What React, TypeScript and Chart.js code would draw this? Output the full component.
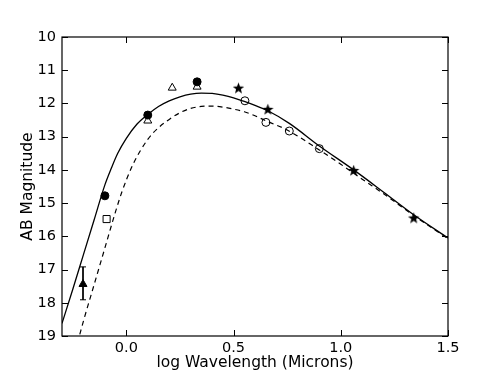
import React, { useEffect, useRef } from 'react';
import { Chart, registerables } from 'chart.js';

Chart.register(...registerables);

// Axis ticks
const xTicks = [0.0, 0.5, 1.0, 1.5];
const yTicks = [10, 11, 12, 13, 14, 15, 16, 17, 18, 19];

// Model curves
const solidX = [-0.3, -0.25, -0.2, -0.15, -0.1, -0.07, -0.04, 0.0, 0.05, 0.1, 0.15, 0.2, 0.25, 0.3, 0.35, 0.4, 0.45, 0.5, 0.55, 0.6, 0.66, 0.76, 0.9, 1.06, 1.2, 1.34, 1.5];
const solidY = [18.62, 17.6, 16.55, 15.5, 14.45, 13.95, 13.5, 13.05, 12.62, 12.33, 12.09, 11.92, 11.8, 11.72, 11.69, 11.7, 11.75, 11.83, 11.94, 12.06, 12.22, 12.6, 13.28, 14.0, 14.67, 15.35, 16.05];

const dashedX = [-0.217, -0.2, -0.15, -0.1, -0.05, -0.02, 0.03, 0.1, 0.15, 0.2, 0.25, 0.3, 0.35, 0.4, 0.45, 0.5, 0.55, 0.6, 0.65, 0.75, 0.9, 1.0, 1.1, 1.2, 1.34, 1.5];
const dashedY = [18.95, 18.55, 17.45, 16.35, 15.25, 14.65, 13.85, 13.08, 12.73, 12.48, 12.28, 12.15, 12.09, 12.08, 12.11, 12.17, 12.25, 12.37, 12.52, 12.8, 13.4, 13.83, 14.28, 14.72, 15.37, 16.07];

// Observations
const filledCircleX = [-0.1, 0.1, 0.33];
const filledCircleY = [14.78, 12.35, 11.35];

const openTriangleX = [0.1, 0.214, 0.33];
const openTriangleY = [12.52, 11.53, 11.5];

const starX = [0.523, 0.66, 1.06, 1.34];
const starY = [11.54, 12.18, 14.02, 15.45];

const openCircleX = [0.553, 0.651, 0.76, 0.9];
const openCircleY = [11.92, 12.57, 12.83, 13.36];

const openSquareX = [-0.092];
const openSquareY = [15.48];

const filledTriangleX = [-0.202];
const filledTriangleY = [17.44];
const errLow = [16.92];
const errHigh = [17.91];

const pts = (xs: number[], ys: number[]) => xs.map((x, i) => ({ x, y: ys[i] }));

function makeStar(): HTMLCanvasElement {
  const c = document.createElement('canvas');
  c.width = 13;
  c.height = 13;
  const g = c.getContext('2d')!;
  const cx = 6.5, cy = 6.8, R = 6, r = 2.5;
  g.beginPath();
  for (let i = 0; i < 10; i++) {
    const rad = i % 2 === 0 ? R : r;
    const a = -Math.PI / 2 + (i * Math.PI) / 5;
    const px = cx + rad * Math.cos(a);
    const py = cy + rad * Math.sin(a);
    if (i === 0) g.moveTo(px, py);
    else g.lineTo(px, py);
  }
  g.closePath();
  g.fillStyle = '#000';
  g.fill();
  return c;
}

const FONT = "'DejaVu Sans', sans-serif";

const framePlugin = {
  id: 'frameTicks',
  afterDraw(chart: any) {
    const { ctx, chartArea } = chart;
    const { left, right, top, bottom } = chartArea;
    const x = chart.scales.x;
    const y = chart.scales.y;
    ctx.save();
    ctx.strokeStyle = '#000';
    ctx.lineWidth = 1.2;
    ctx.strokeRect(left, top, right - left, bottom - top);
    ctx.lineWidth = 1;
    const L = 6;
    ctx.beginPath();
    xTicks.forEach((v) => {
      const p = Math.round(x.getPixelForValue(v)) + 0.5;
      ctx.moveTo(p, bottom);
      ctx.lineTo(p, bottom - L);
      ctx.moveTo(p, top);
      ctx.lineTo(p, top + L);
    });
    yTicks.forEach((v) => {
      const p = Math.round(y.getPixelForValue(v)) + 0.5;
      ctx.moveTo(left, p);
      ctx.lineTo(left + L, p);
      ctx.moveTo(right, p);
      ctx.lineTo(right - L, p);
    });
    ctx.stroke();
    ctx.restore();
  },
};

export default function App() {
  const ref = useRef<HTMLCanvasElement>(null);
  useEffect(() => {
    document.body.style.margin = '0';
    const star = makeStar();
    const errData: { x: number; y: number }[] = [];
    filledTriangleX.forEach((x, i) => {
      errData.push({ x, y: errLow[i] });
      errData.push({ x, y: errHigh[i] });
    });
    const chart = new Chart(ref.current!, {
      type: 'scatter',
      data: {
        datasets: [
          {
            label: 'filled circles',
            data: pts(filledCircleX, filledCircleY),
            pointStyle: 'circle',
            pointRadius: 4,
            backgroundColor: '#000',
            borderColor: '#000',
            borderWidth: 1,
          },
          {
            label: 'filled triangle',
            data: pts(filledTriangleX, filledTriangleY),
            pointStyle: 'triangle',
            pointRadius: 4.6,
            backgroundColor: '#000',
            borderColor: '#000',
            borderWidth: 1,
          },
          {
            label: 'error',
            data: errData,
            showLine: true,
            pointStyle: 'line',
            pointRadius: 3,
            borderColor: '#000',
            backgroundColor: '#000',
            borderWidth: 1,
          },
          {
            label: 'stars',
            data: pts(starX, starY),
            pointStyle: star as any,
            pointRadius: 6,
          },
          {
            label: 'open circles',
            data: pts(openCircleX, openCircleY),
            pointStyle: 'circle',
            pointRadius: 4,
            backgroundColor: 'rgba(0,0,0,0)',
            borderColor: '#000',
            borderWidth: 1,
          },
          {
            label: 'open square',
            data: pts(openSquareX, openSquareY),
            pointStyle: 'rect',
            pointRadius: 5,
            backgroundColor: '#fff',
            borderColor: '#000',
            borderWidth: 1,
          },
          {
            label: 'open triangles',
            data: pts(openTriangleX, openTriangleY),
            pointStyle: 'triangle',
            pointRadius: 4.6,
            backgroundColor: 'rgba(255,255,255,1)',
            borderColor: '#000',
            borderWidth: 1,
          },
          {
            label: 'model solid',
            data: pts(solidX, solidY),
            showLine: true,
            pointRadius: 0,
            borderColor: '#000',
            borderWidth: 1.3,
            cubicInterpolationMode: 'monotone',
          },
          {
            label: 'model dashed',
            data: pts(dashedX, dashedY),
            showLine: true,
            pointRadius: 0,
            borderColor: '#000',
            borderWidth: 1.2,
            borderDash: [5, 4],
            cubicInterpolationMode: 'monotone',
          },
        ] as any,
      },
      options: {
        responsive: false,
        animation: false,
        events: [],
        layout: { padding: { left: 0, top: 37, right: 50, bottom: 0 } },
        plugins: { legend: { display: false }, tooltip: { enabled: false } },
        scales: {
          x: {
            type: 'linear',
            position: 'bottom',
            min: -0.3,
            max: 1.5,
            afterBuildTicks: (s: any) => {
              s.ticks = xTicks.map((v) => ({ value: v }));
            },
            afterFit: (s: any) => {
              s.height = 38;
            },
            grid: { display: false, drawTicks: false },
            border: { display: false },
            ticks: {
              callback: (v: any) => Number(v).toFixed(1),
              font: { family: FONT, size: 14.5 },
              color: '#000',
              padding: 4,
              maxRotation: 0,
              autoSkip: false,
            },
            title: {
              display: true,
              text: 'log Wavelength (Microns)',
              font: { family: FONT, size: 15.5 },
              color: '#000',
              padding: { top: 0, bottom: 2 },
            },
          },
          y: {
            type: 'linear',
            reverse: true,
            min: 10,
            max: 19,
            afterBuildTicks: (s: any) => {
              s.ticks = yTicks.map((v) => ({ value: v }));
            },
            afterFit: (s: any) => {
              s.width = 62;
            },
            grid: { display: false, drawTicks: false },
            border: { display: false },
            ticks: {
              callback: (v: any) => String(v),
              font: { family: FONT, size: 14.5 },
              color: '#000',
              padding: 6,
              autoSkip: false,
            },
            title: {
              display: true,
              text: 'AB Magnitude',
              font: { family: FONT, size: 15.5 },
              color: '#000',
              padding: { top: 19, bottom: 0 },
            },
          },
        },
      } as any,
      plugins: [framePlugin],
    });
    return () => chart.destroy();
  }, []);
  return (
    <div style={{ width: 498, height: 374, background: '#fff' }}>
      <canvas ref={ref} width={498} height={374} style={{ display: 'block' }} />
    </div>
  );
}
